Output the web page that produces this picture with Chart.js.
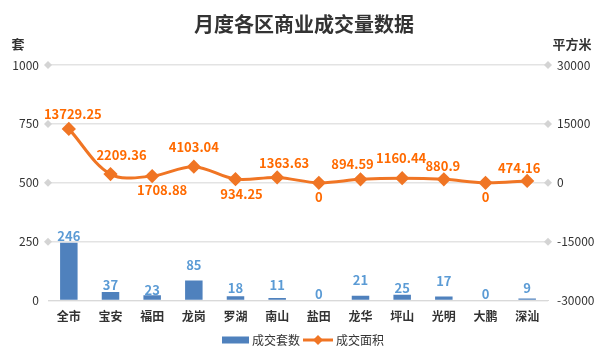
<!DOCTYPE html>
<html><head><meta charset="utf-8">
<script src="https://cdn.jsdelivr.net/npm/chart.js@4/dist/chart.umd.min.js"></script>
<style>html,body{margin:0;padding:0;background:#fff}#wrap{width:609px;height:356px}</style>
</head><body><div id="wrap"><canvas id="c" width="609" height="356"></canvas></div>
<script>
const categories = ['全市','宝安','福田','龙岗','罗湖','南山','盐田','龙华','坪山','光明','大鹏','深汕'];
const unitsSold = [246,37,23,85,18,11,0,21,25,17,0,9];
const areaSold = [13729.25,2209.36,1708.88,4103.04,934.25,1363.63,0,894.59,1160.44,880.9,0,474.16];
const areaLabels = ['13729.25','2209.36','1708.88','4103.04','934.25','1363.63','0','894.59','1160.44','880.9','0','474.16'];
const leftTicks = [0,250,500,750,1000];
const rightTicks = [-30000,-15000,0,15000,30000];
const titleText = '月度各区商业成交量数据';
const leftUnit = '套';
const rightUnit = '平方米';

const FONT = '"Noto Sans CJK SC","Noto Sans",sans-serif';
const BAR = '#4F81BD', BAR_LBL = '#5B9BD5', LINE = '#F07524', LINE_LBL = '#FF6A00';

// label nudges (pixels) mimicking the reference's label placement
const labelStyle = {
  lineDx: [4, 11, 10, 0, 6, 7, 0, -8, -1, -1, 0, -8],
  lineDy: [-15, -19, 14, -20, 15, -14, 14, -15, -20, -13, 14, -13],
  barDy: [-6.5, -6.5, -5.5, -16, -8, -13, -7, -16, -7, -16, -7, -10]
};

const deco = {
  id: 'deco',
  beforeDatasetsDraw(chart) {
    const ctx = chart.ctx, a = chart.chartArea, y = chart.scales.y;
    ctx.save();
    ctx.fillStyle = '#d4d4d4';
    leftTicks.forEach(v => {
      if (v === leftTicks[0]) return;
      const py = y.getPixelForValue(v);
      [a.left, a.right].forEach(px => {
        ctx.beginPath();
        ctx.moveTo(px, py - 4); ctx.lineTo(px + 4, py); ctx.lineTo(px, py + 4); ctx.lineTo(px - 4, py);
        ctx.closePath(); ctx.fill();
      });
    });
    ctx.restore();
  },
  afterDraw(chart) {
    const ctx = chart.ctx;
    ctx.save();
    ctx.fillStyle = '#333';
    ctx.textAlign = 'center'; ctx.textBaseline = 'middle';
    ctx.font = 'bold 20px ' + FONT;
    ctx.fillText(titleText, 304, 24);
    ctx.font = 'bold 13px ' + FONT;
    ctx.fillText(leftUnit, 18, 44);
    ctx.fillText(rightUnit, 572, 44);

    // bar labels
    const m0 = chart.getDatasetMeta(1);
    ctx.font = 'bold 13px ' + FONT;
    ctx.fillStyle = BAR_LBL;
    m0.data.forEach((el, i) => ctx.fillText(String(unitsSold[i]), el.x, el.y + labelStyle.barDy[i]));

    // line labels
    const m1 = chart.getDatasetMeta(0);
    ctx.fillStyle = LINE_LBL;
    m1.data.forEach((el, i) => {
      ctx.fillText(areaLabels[i], el.x + labelStyle.lineDx[i], el.y + labelStyle.lineDy[i]);
    });

    // legend
    ctx.font = '12px ' + FONT;
    const t1 = chart.data.datasets[1].label, t2 = chart.data.datasets[0].label;
    const w1 = ctx.measureText(t1).width;
    let x = 222; const ly = 340;
    ctx.fillStyle = BAR; ctx.fillRect(x, ly - 3.5, 27, 7);
    x += 30;
    ctx.fillStyle = '#333'; ctx.textAlign = 'left'; ctx.fillText(t1, x, ly);
    x += w1 + 3;
    ctx.strokeStyle = LINE; ctx.lineWidth = 3;
    ctx.beginPath(); ctx.moveTo(x, ly); ctx.lineTo(x + 30, ly); ctx.stroke();
    ctx.fillStyle = LINE;
    ctx.beginPath(); ctx.moveTo(x + 15, ly - 5); ctx.lineTo(x + 20, ly); ctx.lineTo(x + 15, ly + 5); ctx.lineTo(x + 10, ly); ctx.closePath(); ctx.fill();
    x += 33;
    ctx.fillStyle = '#333'; ctx.fillText(t2, x, ly);
    ctx.restore();
  }
};

new Chart(document.getElementById('c'), {
  data: {
    labels: categories,
    datasets: [
      { type: 'line', label: '成交面积', data: areaSold, yAxisID: 'y1', borderColor: LINE, backgroundColor: LINE,
        borderWidth: 3, tension: 0.35, pointStyle: 'rectRot', pointRadius: 5, pointHoverRadius: 5, order: 0 },
      { type: 'bar', label: '成交套数', data: unitsSold, yAxisID: 'y', backgroundColor: BAR,
        barPercentage: 0.42, categoryPercentage: 1.0, order: 1 }
    ]
  },
  options: {
    responsive: false, animation: false,
    layout: { padding: { top: 65, bottom: 23, left: 0, right: 0 } },
    plugins: { legend: { display: false }, title: { display: false }, tooltip: { enabled: false } },
    scales: {
      x: {
        grid: { display: false, drawTicks: false },
        border: { color: '#d9d9d9', width: 1 },
        ticks: { color: '#333', font: { family: FONT, size: 12, weight: 'bold' }, padding: 9 }
      },
      y: {
        position: 'left', min: 0, max: 1000,
        afterBuildTicks: s => { s.ticks = leftTicks.map(v => ({ value: v })); },
        afterFit: s => { s.width = 48; },
        grid: { color: '#e3e3e3', lineWidth: 1.5, drawTicks: false },
        border: { display: false },
        ticks: { color: '#333', font: { family: FONT, size: 12 }, padding: 9, callback: v => String(v) }
      },
      y1: {
        position: 'right', min: -30000, max: 30000,
        afterBuildTicks: s => { s.ticks = rightTicks.map(v => ({ value: v })); },
        afterFit: s => { s.width = 61; },
        grid: { display: false, drawTicks: false },
        border: { display: false },
        ticks: { color: '#333', font: { family: FONT, size: 12 }, padding: 9, callback: v => String(v) }
      }
    }
  },
  plugins: [deco]
});
</script></body></html>
